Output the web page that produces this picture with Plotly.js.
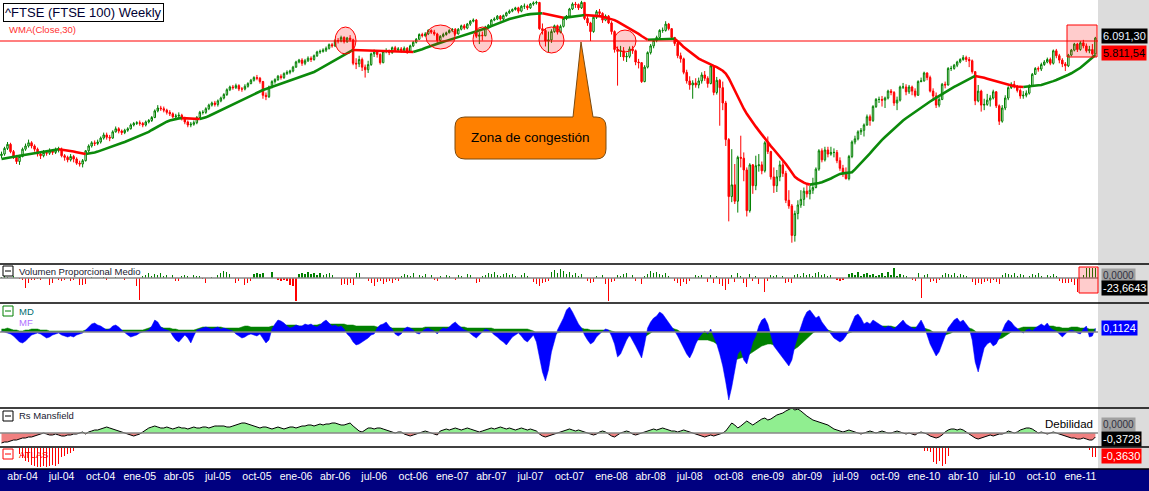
<!DOCTYPE html>
<html><head><meta charset="utf-8">
<script src="https://cdn.plot.ly/plotly-3.0.1.min.js"></script>
<style>html,body{margin:0;padding:0;background:#fff;overflow:hidden}#chart{width:1149px;height:491px}</style>
</head><body><div id="chart"></div>
<script>
// ---------- DATA (weekly bars, first bar = week of 2004-02-16) ----------
const firstWeek = '2004-02-16';
const opens = [
4400,4420,4490,4540,4450,4380,4330,4390,4480,4520,
4560,4520,4480,4420,4400,4440,4430,4460,4440,4470,
4480,4400,4380,4350,4390,4360,4310,4300,4340,4460,
4520,4560,4550,4570,4620,4660,4630,4620,4700,4740,
4710,4690,4720,4740,4790,4810,4820,4810,4790,4830,
4850,4890,4980,5020,5010,4990,4960,4940,4900,4910,
4920,4880,4830,4790,4800,4820,4890,4960,4960,5010,
5060,5090,5070,5120,5160,5210,5280,5320,5310,5340,
5290,5290,5330,5370,5420,5460,5450,5400,5200,5180,
5320,5400,5430,5480,5460,5520,5540,5560,5620,5700,
5730,5680,5720,5760,5740,5800,5860,5870,5890,5920,
5980,5960,6050,6040,6100,6030,6090,6060,5680,5670,
5740,5620,5580,5660,5830,5860,5820,5690,5870,5880,
5850,5930,5890,5910,5880,5920,5870,5960,6020,6070,
6150,6130,6160,6220,6190,6160,6050,6120,6150,6180,
6220,6240,6160,6240,6300,6260,6330,6380,6400,6120,
6140,6130,6280,6310,6400,6420,6470,6420,6480,6530,
6560,6590,6620,6560,6650,6650,6620,6690,6710,6720,
6250,6220,6040,6060,6200,6300,6190,6290,6430,6470,
6600,6690,6680,6620,6720,6430,6350,6200,6450,6550,
6520,6400,6470,6350,6200,5900,5870,5880,5780,5790,
5910,5880,5700,5690,5400,5620,5850,5960,6050,6100,
6220,6220,6330,6250,6100,6000,5800,5750,5540,5410,
5350,5380,5350,5410,5500,5450,5370,5640,5240,5420,
5310,5090,4600,3930,4060,3880,4380,4370,4230,3780,
4290,4050,4280,4290,4220,4560,4450,4150,4050,4150,
4290,4190,3890,3830,3530,3750,3840,3900,3990,3960,
4000,4030,4240,4460,4350,4470,4420,4440,4440,4340,
4250,4200,4130,4390,4570,4610,4700,4720,4790,4900,
4850,5040,5140,5140,5130,5160,5260,5240,5090,5130,
5320,5320,5250,5320,5260,5200,5400,5410,5530,5460,
5260,5190,5060,5140,5360,5350,5600,5600,5650,5700,
5740,5770,5740,5720,5550,5120,5260,5060,5070,5130,
5160,5250,5050,4840,5020,5160,5310,5360,5330,5270,
5190,5200,5230,5330,5510,5600,5590,5660,5700,5740,
5680,5880,5800,5730,5670,5640,5810,5890,5990,5900,
6010,5960,5880,5900,5830];
const highs = [
4450,4510,4570,4560,4470,4410,4410,4500,4550,4600,
4580,4540,4500,4450,4470,4470,4490,4480,4500,4510,
4500,4420,4400,4420,4410,4380,4340,4360,4470,4540,
4580,4590,4600,4640,4690,4690,4660,4720,4770,4760,
4730,4740,4760,4810,4830,4840,4850,4830,4850,4870,
4910,5000,5060,5050,5040,5010,4990,4960,4940,4960,
4940,4900,4850,4830,4850,4910,4980,4990,5030,5080,
5110,5120,5140,5180,5230,5300,5340,5350,5370,5360,
5320,5360,5390,5440,5480,5500,5470,5410,5240,5340,
5420,5450,5500,5510,5540,5570,5580,5640,5720,5750,
5760,5750,5790,5790,5820,5880,5900,5920,5950,6000,
6010,6070,6090,6130,6120,6110,6140,6080,5760,5800,
5770,5660,5720,5850,5900,5890,5840,5890,5920,5900,
5950,5960,5940,5940,5950,5940,5980,6040,6090,6170,
6180,6190,6240,6240,6230,6180,6140,6180,6200,6240,
6260,6260,6260,6320,6330,6350,6400,6430,6420,6190,
6200,6300,6330,6420,6450,6490,6490,6500,6550,6590,
6610,6640,6640,6670,6700,6680,6710,6740,6750,6730,
6340,6260,6200,6240,6320,6320,6320,6450,6490,6620,
6720,6730,6700,6750,6730,6470,6370,6470,6580,6600,
6540,6500,6490,6380,6220,5950,5960,5940,5850,5950,
5960,5900,5750,5700,5650,5870,5990,6070,6130,6240,
6270,6380,6350,6260,6110,6020,5850,5770,5580,5480,
5420,5450,5460,5540,5560,5480,5660,5650,5470,5440,
5400,5120,4620,4480,4300,4400,4650,4440,4260,4310,
4300,4400,4420,4330,4580,4640,4460,4260,4230,4340,
4330,4220,4000,3850,3780,3890,4000,4030,4060,4050,
4140,4260,4480,4490,4510,4510,4510,4490,4470,4380,
4290,4260,4410,4590,4650,4720,4750,4810,4930,4930,
5060,5160,5180,5190,5180,5280,5290,5260,5180,5340,
5380,5360,5350,5340,5300,5420,5460,5550,5540,5490,
5300,5240,5170,5380,5400,5620,5640,5670,5720,5760,
5810,5800,5780,5740,5560,5350,5280,5150,5220,5200,
5280,5260,5070,5060,5200,5330,5390,5410,5350,5300,
5260,5270,5360,5530,5620,5630,5690,5730,5770,5770,
5900,5910,5830,5760,5700,5830,5910,6010,6010,6040,
6060,6000,5960,5990,6110];
const lows = [
4370,4400,4470,4430,4360,4300,4290,4380,4460,4500,
4490,4450,4390,4360,4380,4400,4410,4410,4420,4440,
4380,4340,4320,4330,4320,4290,4270,4260,4330,4440,
4500,4520,4530,4550,4600,4600,4580,4610,4690,4680,
4660,4670,4700,4730,4770,4790,4780,4760,4770,4810,
4830,4880,4960,4980,4960,4930,4910,4880,4870,4890,
4850,4800,4760,4760,4780,4800,4870,4930,4940,4990,
5040,5040,5040,5100,5140,5190,5260,5280,5290,5260,
5250,5270,5310,5360,5400,5420,5370,5150,5130,5160,
5300,5370,5410,5430,5440,5500,5510,5540,5610,5680,
5640,5650,5700,5700,5720,5780,5830,5850,5860,5900,
5930,5940,6000,6020,6000,6010,6030,5650,5590,5620,
5560,5460,5530,5640,5780,5770,5660,5680,5840,5810,
5830,5860,5860,5850,5860,5830,5860,5940,6000,6060,
6100,6110,6140,6160,6130,6000,6030,6100,6130,6170,
6190,6130,6150,6220,6230,6240,6300,6360,6090,5990,
6050,6120,6250,6300,6380,6400,6390,6400,6460,6510,
6540,6570,6520,6540,6600,6580,6600,6660,6680,6230,
6150,5950,5860,6010,6180,6150,6170,6270,6400,6450,
6580,6620,6580,6600,6400,6300,6040,6180,6420,6460,
6350,6380,6330,6150,5850,5340,5780,5720,5700,5760,
5830,5650,5600,5380,5390,5600,5820,5920,6020,6080,
6180,6200,6220,6060,5960,5760,5690,5510,5370,5280,
5150,5310,5300,5370,5410,5310,5360,5200,5210,4780,
4990,4520,3670,3870,3850,3760,4260,4100,3720,3760,
3960,4000,4210,4180,4200,4420,4120,3970,3980,4100,
4150,3860,3800,3460,3470,3690,3810,3830,3920,3900,
3960,4020,4220,4320,4330,4380,4400,4380,4310,4220,
4150,4120,4110,4370,4540,4590,4660,4640,4780,4780,
4830,5020,5090,5040,5020,5140,5200,5050,4990,5110,
5290,5200,5220,5200,5170,5190,5390,5400,5420,5240,
5130,5020,5030,5130,5300,5340,5560,5580,5620,5680,
5720,5700,5620,5520,5060,5100,4970,4990,5050,5040,
5140,5020,4790,4820,4990,5130,5290,5300,5240,5150,
5150,5170,5210,5320,5500,5550,5560,5640,5680,5650,
5660,5760,5680,5620,5560,5620,5790,5870,5860,5880,
5920,5850,5840,5800,5820];
const closes = [
4420,4490,4540,4450,4380,4330,4390,4480,4520,4560,
4520,4480,4420,4400,4440,4430,4460,4440,4470,4480,
4400,4380,4350,4390,4360,4310,4300,4340,4460,4520,
4560,4550,4570,4620,4660,4630,4620,4700,4740,4710,
4690,4720,4740,4790,4810,4820,4810,4790,4830,4850,
4890,4980,5020,5010,4990,4960,4940,4900,4910,4920,
4880,4830,4790,4800,4820,4890,4960,4960,5010,5060,
5090,5070,5120,5160,5210,5280,5320,5310,5340,5290,
5290,5330,5370,5420,5460,5450,5400,5200,5180,5320,
5400,5430,5480,5460,5520,5540,5560,5620,5700,5730,
5680,5720,5760,5740,5800,5860,5870,5890,5920,5980,
5960,6050,6040,6100,6030,6090,6060,5680,5670,5740,
5620,5580,5660,5830,5860,5820,5690,5870,5880,5850,
5930,5890,5910,5880,5920,5870,5960,6020,6070,6150,
6130,6160,6220,6190,6160,6050,6120,6150,6180,6220,
6240,6160,6240,6300,6260,6330,6380,6400,6120,6140,
6130,6280,6310,6400,6420,6470,6420,6480,6530,6560,
6590,6620,6560,6650,6650,6620,6690,6710,6720,6250,
6220,6040,6060,6200,6300,6190,6290,6430,6470,6600,
6690,6680,6620,6720,6430,6350,6200,6450,6550,6520,
6400,6470,6350,6200,5900,5870,5880,5780,5790,5910,
5880,5700,5690,5400,5620,5850,5960,6050,6100,6220,
6220,6330,6250,6100,6000,5800,5750,5540,5410,5350,
5380,5350,5410,5500,5450,5370,5640,5240,5420,5310,
5090,4600,3930,4060,3880,4380,4370,4230,3780,4290,
4050,4280,4290,4220,4560,4450,4150,4050,4150,4290,
4190,3890,3830,3530,3750,3840,3900,3990,3960,4000,
4030,4240,4460,4350,4470,4420,4440,4440,4340,4250,
4200,4130,4390,4570,4610,4700,4720,4790,4900,4850,
5040,5140,5140,5130,5160,5260,5240,5090,5130,5320,
5320,5250,5320,5260,5200,5400,5410,5530,5460,5260,
5190,5060,5140,5360,5350,5600,5600,5650,5700,5740,
5770,5740,5720,5550,5120,5260,5060,5070,5130,5160,
5250,5050,4840,5020,5160,5310,5360,5330,5270,5190,
5200,5230,5330,5510,5600,5590,5660,5700,5740,5680,
5880,5800,5730,5670,5640,5810,5890,5990,5900,6010,
5960,5880,5900,5830,6091.3];
const wma30 = [
4360,4368,4376,4383,4389,4394,4399,4405,4411,4418,
4425,4431,4437,4443,4450,4456,4462,4468,4474,4480,
4476,4471,4465,4458,4451,4443,4435,4428,4421,4425,
4432,4440,4450,4462,4476,4490,4503,4516,4530,4543,
4556,4570,4585,4600,4616,4632,4649,4666,4683,4700,
4724,4748,4772,4796,4818,4834,4848,4860,4870,4878,
4882,4880,4878,4876,4874,4872,4870,4878,4892,4910,
4930,4950,4970,4990,5010,5030,5050,5070,5090,5110,
5131,5152,5173,5194,5215,5236,5256,5276,5291,5306,
5321,5336,5351,5366,5381,5395,5411,5427,5444,5461,
5478,5495,5512,5529,5545,5570,5596,5622,5648,5674,
5701,5730,5760,5790,5820,5848,5872,5893,5891,5889,
5887,5885,5883,5881,5879,5877,5875,5873,5871,5869,
5867,5866,5865,5864,5863,5862,5861,5860,5872,5888,
5906,5925,5944,5962,5978,5994,6010,6027,6043,6059,
6075,6092,6108,6124,6140,6155,6170,6185,6200,6215,
6230,6251,6272,6294,6316,6338,6360,6381,6400,6418,
6434,6449,6463,6476,6488,6498,6506,6513,6518,6521,
6522,6510,6495,6478,6462,6450,6443,6440,6445,6452,
6460,6468,6476,6483,6490,6488,6485,6482,6478,6470,
6460,6448,6434,6418,6400,6372,6343,6314,6286,6258,
6230,6195,6160,6125,6092,6062,6064,6066,6068,6070,
6072,6074,6076,6077,6078,6040,5990,5940,5900,5860,
5820,5785,5755,5730,5705,5682,5660,5640,5620,5595,
5565,5520,5450,5360,5265,5175,5090,5010,4940,4878,
4820,4768,4716,4664,4612,4560,4518,4476,4434,4392,
4350,4300,4250,4200,4150,4125,4103,4085,4071,4062,
4066,4072,4080,4090,4102,4114,4132,4150,4168,4184,
4190,4194,4198,4204,4236,4272,4310,4348,4385,4428,
4472,4516,4560,4597,4634,4671,4709,4746,4783,4820,
4850,4880,4910,4940,4970,5000,5030,5057,5084,5111,
5138,5165,5192,5220,5245,5270,5295,5320,5345,5370,
5395,5420,5445,5467,5485,5478,5468,5456,5443,5430,
5417,5403,5389,5375,5362,5350,5340,5332,5326,5322,
5320,5323,5328,5334,5340,5345,5350,5362,5376,5391,
5407,5423,5440,5460,5481,5503,5526,5550,5576,5610,
5650,5690,5730,5770,5811.54];
const volProp = [
1,2,1,0,2,0,-1,-2,-10,-5,
-2,-2,-1,-2,0,0,-7,-5,0,-2,
-3,-2,0,-3,-2,0,-7,-7,-6,0,
1,0,0,0,1,-2,0,0,1,0,
0,-2,0,0,0,-8,-22,2,3,5,
2,4,3,5,2,3,0,3,-3,-3,
2,3,2,0,3,2,2,-1,-5,0,
1,0,3,5,7,6,4,0,-5,-3,
0,-7,-5,-3,4,5,4,5,0,0,
6,0,-2,-3,-2,-3,-7,-8,-23,4,
5,4,6,4,5,3,5,3,4,5,
3,0,0,-7,-6,-7,-5,-7,5,5,
0,0,-3,-5,-8,-4,-3,-6,-4,-3,
-5,-2,-3,2,4,3,2,5,0,3,
2,4,0,3,-2,-3,2,0,3,2,
0,-2,3,2,0,4,3,0,-5,-4,
2,3,5,4,6,3,2,4,5,3,
4,2,0,3,5,2,0,-4,-6,-8,
-5,-4,-3,6,8,5,9,7,4,6,
3,5,2,4,0,-3,-5,-4,2,0,
3,-6,-23,-4,-3,3,2,4,5,0,
3,-3,0,-6,2,4,7,5,6,4,
3,5,2,0,-3,-5,-8,-4,-6,-3,
0,3,2,3,0,-4,3,-5,2,-6,
-8,-12,-6,3,-4,5,2,-5,-9,4,
-3,2,-6,0,-14,-3,3,2,3,0,
2,-5,-4,-5,3,4,2,5,3,4,
2,5,6,3,4,2,3,0,-2,-3,
-2,0,4,5,3,6,2,4,5,3,
4,2,3,5,2,6,3,10,2,4,
3,2,0,-2,-3,5,-20,3,4,-4,
-3,-5,-2,3,5,4,3,5,2,4,
3,2,0,-4,-7,-5,-6,-4,-3,-5,
-2,-4,-6,3,5,4,3,5,2,4,
3,0,2,4,3,5,2,0,3,2,
4,2,-3,-5,-5,-5,-4,-7,-14,0,
3,10,10,10,10];
const mdValues = [
1,0,-1,-2,-4,-7,-10,-11,-9,-6,
-3,-2,-1,-2,-4,-6,-5,-3,-2,-1,
-3,-4,-5,-4,-5,-3,-2,-1,2,5,
8,9,7,6,4,2,3,6,7,5,
2,-1,-3,-5,-4,-3,-1,0,1,2,
6,12,10,5,3,2,1,-4,-8,-10,
-7,-3,-6,-11,-4,2,3,4,5,4,
3,4,5,3,4,3,2,1,-2,-4,
-6,-5,-3,-2,-3,-4,-2,-6,-11,-8,
3,8,12,11,9,6,4,5,7,6,
6,8,7,8,6,5,7,10,12,9,
6,7,5,6,3,-2,-5,-10,-13,-12,
-10,-8,-6,-3,-2,4,7,8,10,6,
3,-2,-4,-2,3,5,4,2,-1,-2,
1,3,4,2,1,-2,2,4,3,5,
8,10,7,4,2,1,-2,-4,-6,-3,
1,3,2,0,-3,-5,-8,-10,-13,-9,
-5,-3,-1,-4,-8,-10,-6,-3,-10,-25,
-40,-49,-38,-20,-8,2,8,14,22,25,
20,14,8,4,-3,-8,-12,-10,-5,-2,
1,3,2,-4,-12,-25,-22,-15,-8,-3,
-8,-14,-20,-26,-12,4,10,14,16,20,
18,14,10,5,1,-4,-10,-16,-22,-26,
-20,-12,-6,-2,1,-2,3,-5,-12,-22,
-34,-50,-68,-55,-38,-22,-18,-28,-32,-20,
-10,-4,6,12,14,8,-4,-14,-18,-22,
-26,-30,-34,-28,-14,-4,6,14,20,22,
18,14,16,10,6,2,-2,-6,-8,-10,
-8,-4,2,10,16,18,14,8,10,8,
12,10,8,6,4,6,5,3,6,10,
12,8,6,4,3,8,12,6,-4,-12,
-18,-24,-20,-12,-4,4,8,12,14,10,
12,8,4,-8,-30,-40,-28,-16,-12,-10,
-14,-12,-6,2,8,12,10,6,3,1,
-1,2,3,1,4,6,8,6,9,4,
2,1,-2,-5,-2,1,2,1,-1,-2,
3,6,-5,-4,4];
const mfValues = [
3,3,4,3,2,2,1,1,2,2,
3,3,3,2,2,2,1,1,1,1,
1,1,1,1,1,1,1,1,2,3,
3,4,4,4,3,3,3,3,3,3,
2,2,2,2,2,2,2,2,3,4,
5,5,5,5,4,4,4,3,3,2,
2,2,2,2,2,3,4,5,5,5,
5,5,5,5,4,4,4,4,4,4,
5,6,6,5,5,5,5,5,5,5,
6,6,7,7,7,7,7,7,7,6,
6,6,6,6,7,7,8,8,8,8,
8,8,8,8,8,7,7,7,6,6,
6,6,6,6,6,5,5,5,5,5,
4,4,4,4,4,4,4,4,4,4,
4,5,5,5,5,5,5,5,5,5,
5,5,5,5,5,4,4,4,4,4,
4,4,4,4,3,3,3,3,3,3,
3,3,3,3,3,3,2,1,-1,-3,
-5,-6,-6,-5,-3,-1,0,2,3,4,
5,5,5,4,3,3,2,2,2,2,
2,2,2,1,0,-2,-3,-4,-4,-4,
-4,-5,-5,-6,-5,-3,-1,1,2,3,
4,4,4,4,3,2,0,-2,-4,-6,
-7,-8,-8,-8,-8,-8,-9,-10,-12,-14,
-16,-20,-25,-28,-28,-27,-26,-25,-24,-22,
-20,-18,-16,-14,-13,-12,-12,-13,-14,-15,
-16,-17,-18,-18,-17,-15,-12,-9,-6,-3,
-1,1,2,3,3,2,1,0,-1,-2,
-2,-2,-1,0,2,3,4,5,5,6,
6,6,6,6,6,6,6,5,5,5,
5,5,5,5,5,5,5,4,3,2,
0,-2,-3,-3,-3,-2,-1,1,2,3,
4,4,4,3,1,-2,-4,-6,-7,-8,
-8,-8,-7,-6,-4,-2,0,2,3,4,
5,5,5,5,5,5,5,5,6,6,
6,5,5,4,4,4,5,5,5,4,
4,4,3,3,3];
const rsMansfield = [
-10,-9,-9,-8,-7,-7,-6,-5,-5,-4,
-4,-3,-2,-1,0,-1,-2,-2,-1,-2,
-3,-3,-2,-2,-1,-1,0,1,-1,1,
2,3,3,4,5,6,5,4,3,2,
1,0,-1,-2,-3,-2,-1,1,3,5,
6,7,6,5,5,6,5,4,5,6,
5,5,4,5,6,5,5,6,6,5,
6,7,7,7,7,6,6,7,8,9,
10,10,9,8,7,6,5,6,6,5,
4,5,6,5,4,5,6,6,5,6,
7,7,8,8,7,8,9,8,9,9,
10,10,9,8,8,9,10,7,4,2,
1,3,5,5,4,5,5,4,3,2,
1,0,1,1,-1,-2,-3,-2,-1,0,
1,2,1,0,-1,-2,2,3,4,3,
4,5,4,3,4,5,4,3,2,1,
2,3,4,5,4,5,6,5,4,5,
4,3,4,5,4,3,4,3,2,-1,
-3,-4,-3,-2,-1,0,1,2,3,4,
3,2,3,2,1,0,-1,-2,-1,1,
2,1,-1,-3,-4,-2,0,1,2,1,
-1,-2,-1,0,1,2,3,4,3,4,
5,4,3,2,2,1,2,3,2,1,
0,-1,-2,-3,-4,-3,-2,-3,-2,-1,
0,2,6,10,8,5,7,10,12,10,
8,10,12,14,15,13,14,16,18,19,
20,22,24,25,23,24,22,19,17,15,
13,12,11,10,9,8,6,4,3,2,
1,2,3,2,1,0,-1,0,1,2,
1,0,1,2,1,0,0,1,2,1,
0,-1,0,-1,-2,0,1,0,-1,-3,
-4,-5,-4,-2,1,3,4,4,3,4,
3,1,-1,-3,-5,-6,-5,-4,-3,-2,
-3,-2,-1,-1,0,2,1,0,1,3,
4,5,5,4,2,0,1,0,-1,0,
1,0,-1,-2,-3,-4,-5,-5,-6,-6,
-5,-6,-7,-7,-4];
const atlasWeeks  = [6,7,8,9,10,11,12,13,14,15,16,17,18,19,20,21,22,23,24, 307,308,309,310,311,312,313,314,315, 362,363,364];
const atlasValues = [-6,-10,-13,-14,-17,-18,-19,-19,-18,-19,-18,-17,-18,-16,-9,-8,-6,-5,-3, -3,-3,-4,-14,-16,-13,-18,-16,-8, -2,-9,-9];
const tickDates = ['2004-04-05','2004-07-05','2004-10-04','2005-01-03','2005-04-04','2005-07-04','2005-10-03','2006-01-02','2006-04-03','2006-07-03','2006-10-02','2007-01-01','2007-04-02','2007-07-02','2007-10-01','2008-01-07','2008-04-07','2008-07-07','2008-10-06','2009-01-05','2009-04-06','2009-07-06','2009-10-05','2010-01-04','2010-04-05','2010-07-05','2010-10-04','2011-01-03'];
const tickLabels = ['abr-04','jul-04','oct-04','ene-05','abr-05','jul-05','oct-05','ene-06','abr-06','jul-06','oct-06','ene-07','abr-07','jul-07','oct-07','ene-08','abr-08','jul-08','oct-08','ene-09','abr-09','jul-09','oct-09','ene-10','abr-10','jul-10','oct-10','ene-11'];

// ---------- BUILD ----------
const DAY = 864e5;
const t0 = Date.parse(firstWeek + 'T00:00:00Z');
const dates = closes.map((_, i) => new Date(t0 + i * 7 * DAY).toISOString().slice(0, 10));

const W = 1098, H = 468;           // plot area in px
const PX = x => x / W;
const PY = y => (H - y) / H;
const FONT = 'Liberation Sans, Arial, sans-serif';

// WMA coloured by slope
const wmaUp = wma30.map(() => null), wmaDn = wma30.map(() => null);
for (let i = 1; i < wma30.length; i++) {
  const t = wma30[i] >= wma30[i - 1] ? wmaUp : wmaDn;
  t[i - 1] = wma30[i - 1]; t[i] = wma30[i];
}
const rsPos = rsMansfield.map(v => Math.max(v, 0));
const rsNeg = rsMansfield.map(v => Math.min(v, 0));
const atlasDates = atlasWeeks.map(i => dates[i]);
const barW = 2.6 * DAY;

const traces = [
  {type: 'candlestick', x: dates, open: opens, high: highs, low: lows, close: closes,
   xaxis: 'x', yaxis: 'y', whiskerwidth: 0, hoverinfo: 'skip',
   increasing: {line: {color: '#008000', width: 1}, fillcolor: '#ffffff'},
   decreasing: {line: {color: '#ff0000', width: 1}, fillcolor: '#ff0000'}},
  {type: 'scatter', mode: 'lines', x: dates, y: wmaUp, yaxis: 'y', connectgaps: false,
   line: {color: '#0b8a0b', width: 2.6}, hoverinfo: 'skip'},
  {type: 'scatter', mode: 'lines', x: dates, y: wmaDn, yaxis: 'y', connectgaps: false,
   line: {color: '#ff0000', width: 2.6}, hoverinfo: 'skip'},
  {type: 'bar', x: dates, y: volProp, yaxis: 'y2', width: barW,
   marker: {color: volProp.map(v => v >= 0 ? '#008000' : '#ff0000'), line: {width: 0}}, hoverinfo: 'skip'},
  {type: 'scatter', mode: 'lines', x: dates, y: mfValues, yaxis: 'y3', fill: 'tozeroy',
   fillcolor: '#008000', line: {color: '#008000', width: 0.5}, hoverinfo: 'skip'},
  {type: 'scatter', mode: 'lines', x: dates, y: mdValues, yaxis: 'y3', fill: 'tozeroy',
   fillcolor: '#0000ff', line: {color: '#0000ff', width: 0.5}, hoverinfo: 'skip'},
  {type: 'scatter', mode: 'lines', x: dates, y: rsPos, yaxis: 'y4', fill: 'tozeroy',
   fillcolor: '#90ee90', line: {width: 0, color: 'rgba(0,0,0,0)'}, hoverinfo: 'skip'},
  {type: 'scatter', mode: 'lines', x: dates, y: rsNeg, yaxis: 'y4', fill: 'tozeroy',
   fillcolor: '#f08080', line: {width: 0, color: 'rgba(0,0,0,0)'}, hoverinfo: 'skip'},
  {type: 'scatter', mode: 'lines', x: dates, y: rsMansfield, yaxis: 'y4',
   line: {color: '#000000', width: 1}, hoverinfo: 'skip'},
  {type: 'bar', x: atlasDates, y: atlasValues, yaxis: 'y5', width: barW,
   marker: {color: '#ff0000', line: {width: 0}}, hoverinfo: 'skip'}
];

const hidden = {showgrid: false, zeroline: false, showticklabels: false, showline: false, ticks: '', fixedrange: true};
const layout = {
  width: 1149, height: 491,
  margin: {l: 0, r: 51, t: 0, b: 23, pad: 0},
  paper_bgcolor: '#ffffff', plot_bgcolor: '#ffffff',
  showlegend: false, hovermode: false, bargap: 0,
  font: {family: FONT},
  xaxis: {type: 'date', range: ['2004-02-12 12:00', '2011-02-13 02:00'], anchor: 'y5',
          tickmode: 'array', tickvals: tickDates, ticktext: tickLabels,
          tickfont: {color: '#ffffff', size: 10.5, family: FONT}, ticks: '',
          showgrid: false, zeroline: false, showline: false, fixedrange: true,
          rangeslider: {visible: false}},
  yaxis:  Object.assign({}, hidden, {domain: [PY(263), 1], type: 'log', range: [3.5147, 3.8303]}),
  yaxis2: Object.assign({}, hidden, {domain: [PY(302), PY(265)], range: [-24, 13]}),
  yaxis3: Object.assign({}, hidden, {domain: [PY(407), PY(304)], range: [-75, 28]}),
  yaxis4: Object.assign({}, hidden, {domain: [PY(446), PY(409)], range: [-13, 24]}),
  yaxis5: Object.assign({}, hidden, {domain: [0, PY(448)], range: [-20, 0]}),
  shapes: [], annotations: []
};

const S = layout.shapes, A = layout.annotations;
const RIGHT = 1149 / W;
// gray right column and navy date band
S.push({type: 'rect', xref: 'paper', yref: 'paper', x0: 1, x1: RIGHT, y0: PY(469), y1: 1, fillcolor: '#dcdcdc', line: {width: 0}, layer: 'below'});
S.push({type: 'rect', xref: 'paper', yref: 'paper', x0: 0, x1: RIGHT, y0: PY(491), y1: PY(469), fillcolor: '#000080', line: {width: 0}, layer: 'below'});
// zero lines
['y2', 'y3', 'y4'].forEach(ax => S.push({type: 'line', xref: 'paper', yref: ax, x0: 0, x1: 1, y0: 0, y1: 0, line: {color: '#888888', width: 1.5}}));
// separators
[264, 303, 408, 447, 469].forEach(y => S.push({type: 'line', xref: 'paper', yref: 'paper', x0: 0, x1: RIGHT, y0: PY(y), y1: PY(y), line: {color: '#000000', width: 1.3}}));
// resistance line
S.push({type: 'line', xref: 'paper', yref: 'paper', x0: 0, x1: 1, y0: PY(41), y1: PY(41), line: {color: '#ff0000', width: 1.2}});
// congestion circles
const pink = 'rgba(255,0,0,0.2)';
[[335, 27, 356, 54], [426, 25, 455, 49], [473, 27, 492, 52], [539, 27, 564, 53], [614, 30, 636, 52]].forEach(c =>
  S.push({type: 'circle', xref: 'paper', yref: 'paper', x0: PX(c[0]), x1: PX(c[2]), y0: PY(c[3]), y1: PY(c[1]), fillcolor: pink, line: {color: '#ff0000', width: 1}}));
S.push({type: 'rect', xref: 'paper', yref: 'paper', x0: PX(1067), x1: PX(1097), y0: PY(57), y1: PY(25), fillcolor: pink, line: {color: '#ff0000', width: 1}});
S.push({type: 'rect', xref: 'paper', yref: 'paper', x0: PX(1079), x1: PX(1098), y0: PY(293), y1: PY(267), fillcolor: pink, line: {color: '#ff0000', width: 1}});
// callout
const P = (x, y) => PX(x) + ',' + PY(y);
const calloutPath = 'M' + P(465, 117) + ' L' + P(573, 117) + ' L' + P(581, 42) + ' L' + P(593, 117) + ' L' + P(596, 117) +
  ' Q' + P(606, 117) + ' ' + P(606, 127) + ' L' + P(606, 149) + ' Q' + P(606, 159) + ' ' + P(596, 159) +
  ' L' + P(465, 159) + ' Q' + P(455, 159) + ' ' + P(455, 149) + ' L' + P(455, 127) + ' Q' + P(455, 117) + ' ' + P(465, 117) + ' Z';
S.push({type: 'path', xref: 'paper', yref: 'paper', path: calloutPath, fillcolor: '#ff8000', line: {color: '#7a4a10', width: 1}});
// panel collapse icons
[[266, '#000000'], [306, '#008000'], [411, '#000000'], [449, '#ff0000']].forEach(([y, c]) => {
  S.push({type: 'rect', xref: 'paper', yref: 'paper', x0: PX(3), x1: PX(13), y0: PY(y + 10), y1: PY(y), fillcolor: '#ffffff', line: {color: c, width: 1}});
  S.push({type: 'line', xref: 'paper', yref: 'paper', x0: PX(5), x1: PX(11), y0: PY(y + 5), y1: PY(y + 5), line: {color: c, width: 1}});
});

function txt(text, x, y, opt) {
  A.push(Object.assign({xref: 'paper', yref: 'paper', x: PX(x), y: PY(y), text: text, showarrow: false,
    xanchor: 'left', yanchor: 'middle', font: {family: FONT, size: 9, color: '#111111'}}, opt || {}));
}
txt('^FTSE (FTSE 100) Weekly', 3, 3, {yanchor: 'top', font: {family: FONT, size: 13, color: '#000033'}, bgcolor: '#ffffff', bordercolor: '#000000', borderwidth: 1, borderpad: 1});
txt('WMA(Close,30)', 7, 29.5, {font: {family: FONT, size: 9.5, color: '#ff3030'}});
txt('Zona de congestión', 530, 138, {xanchor: 'center', font: {family: FONT, size: 13.5, color: '#000000'}});
txt('Volumen Proporcional Medio', 17, 271.5, {font: {family: FONT, size: 9.5, color: '#202030'}});
txt('MD', 17, 311, {font: {family: FONT, size: 9.5, color: '#007070'}});
txt('MF', 17, 322.5, {font: {family: FONT, size: 9.5, color: '#b070ff'}});
txt('Rs Mansfield', 17, 415.5, {font: {family: FONT, size: 9.5, color: '#202030'}});
txt('ATLAS', 17, 454, {font: {family: FONT, size: 9.5, color: '#ff0000'}});
txt('Debilidad', 1095, 424, {xanchor: 'right', font: {family: FONT, size: 11.5, color: '#000000'}});
// right value labels
const lab = (t, y, bg, fg, sz) => txt(t, 1101, y, {bgcolor: bg, borderpad: 1, font: {family: FONT, size: sz || 11, color: fg}});
lab('6.091,30', 36.5, '#000000', '#e8f0ff');
lab('5.811,54', 53, '#ff0000', '#000000');
lab('0,0000', 275, '#a0a0a0', '#303040', 10);
lab('-23,6643', 288, '#000000', '#ffffff');
lab('0,1124', 328, '#0000ff', '#ffffff');
lab('0,0000', 424.5, '#a0a0a0', '#303040', 10);
lab('-0,3728', 438.5, '#000000', '#ffffff');
lab('-0,3630', 455.5, '#ff0000', '#ffffff');

Plotly.newPlot('chart', traces, layout, {staticPlot: true, displayModeBar: false});
</script>
</body></html>
